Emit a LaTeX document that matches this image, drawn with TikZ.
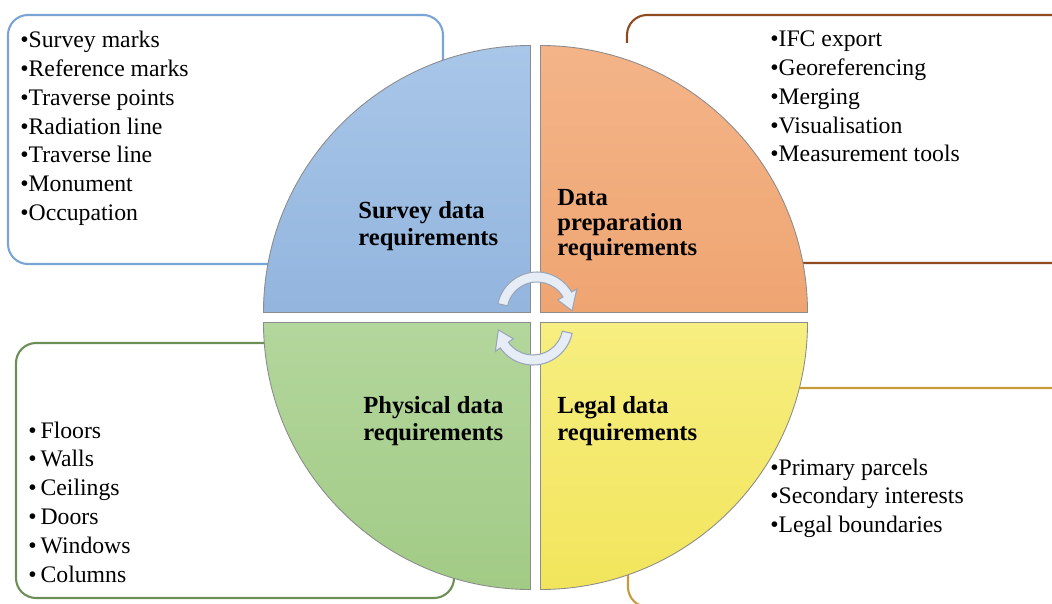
\documentclass[tikz,border=0pt]{standalone}
\usepackage{fontspec}
\setmainfont{Liberation Serif}
\usepackage{tikz}
\usetikzlibrary{calc}
\definecolor{surveyline}{HTML}{7BA4D6}
\definecolor{prepline}{HTML}{8E4B20}
\definecolor{physline}{HTML}{6C8F58}
\definecolor{legalline}{HTML}{C99A3A}
\definecolor{turnfill}{HTML}{E6EDF7}
\definecolor{turnline}{HTML}{98A6B8}
\tikzstyle{item} = [anchor=base west, inner sep=0pt, font=\rmfamily\fontsize{13.5}{16}\selectfont]
\tikzstyle{qlabel} = [anchor=base west, inner sep=0pt, font=\rmfamily\fontsize{14}{16}\selectfont\bfseries]
\tikzstyle{quarter} = [draw=black!45, line width=0.5pt]
\tikzstyle{listbox} = [rounded corners=0.4cm, line width=1.2pt]
\tikzstyle{turn} = [fill=turnfill, draw=turnline, line width=0.6pt]
\begin{document}
\begin{tikzpicture}[x=0.02cm,y=0.02cm]
    \useasboundingbox (0,0) rectangle (1052,603);
    \clip (0,0) rectangle (1052,603);
    % boxes behind the wheel
    \draw[listbox, draw=surveyline] (8,339) rectangle (443,588);
    \draw[listbox, draw=prepline] (627,560) -- (627,588) -- (1075,588) -- (1075,340) -- (700,340);
    \draw[listbox, draw=physline] (16,5) rectangle (454,260);
    \draw[listbox, draw=legalline] (628,-4) rectangle (1075,215);

    % the four quarters
    \coordinate (hub) at (535.5,285.5);
    \path[quarter, top color={rgb,255:red,168;green,198;blue,232}, bottom color={rgb,255:red,147;green,181;blue,222}]
        ($(hub)+(-5,5)$) -- ++(-267,0) arc[start angle=180, end angle=90, radius=267] -- cycle;
    \path[quarter, top color={rgb,255:red,244;green,180;blue,136}, bottom color={rgb,255:red,239;green,165;blue,114}]
        ($(hub)+(5,5)$) -- ++(0,267) arc[start angle=90, end angle=0, radius=267] -- cycle;
    \path[quarter, top color={rgb,255:red,179;green,214;blue,156}, bottom color={rgb,255:red,162;green,203;blue,134}]
        ($(hub)+(-5,-5)$) -- ++(-267,0) arc[start angle=180, end angle=270, radius=267] -- cycle;
    \path[quarter, top color={rgb,255:red,246;green,238;blue,128}, bottom color={rgb,255:red,242;green,229;blue,92}]
        ($(hub)+(5,-5)$) -- ++(267,0) arc[start angle=0, end angle=-90, radius=267] -- cycle;

    % turning arrows
    \coordinate (topturn) at (537,291);
    \coordinate (botturn) at (533,278);
    \path[turn] ([shift={(168:40)}]topturn) arc[start angle=168, end angle=30, radius=40]
        -- ([shift={(30:46)}]topturn) -- ([shift={(2:35)}]topturn) -- ([shift={(30:24)}]topturn)
        -- ([shift={(30:30)}]topturn) arc[start angle=30, end angle=168, radius=30] -- cycle;
    \path[turn] ([shift={(-12:40)}]botturn) arc[start angle=-12, end angle=-145, radius=40]
        -- ([shift={(-145:46)}]botturn) -- ([shift={(-172:35)}]botturn) -- ([shift={(-145:24)}]botturn)
        -- ([shift={(-145:30)}]botturn) arc[start angle=-145, end angle=-12, radius=30] -- cycle;

    % quarter labels
    \node[qlabel] (survey1) at (358,385) {Survey data};
    \node[qlabel] (survey2) at (358,358) {requirements};
    \node[qlabel] (prep1) at (557,398) {Data};
    \node[qlabel] (prep2) at (557,373) {preparation};
    \node[qlabel] (prep3) at (557,348) {requirements};
    \node[qlabel] (phys1) at (363,190) {Physical data};
    \node[qlabel] (phys2) at (363,163) {requirements};
    \node[qlabel] (legal1) at (557,190) {Legal data};
    \node[qlabel] (legal2) at (557,163) {requirements};

    % bullet lists
    \foreach \txt [count=\i] in {Survey marks, Reference marks, Traverse points, Radiation line, Traverse line, Monument, Occupation}
        \node[item] (sv\i) at (20,{555-28.67*(\i-1)}) {\textbullet\txt};
    \foreach \txt [count=\i] in {IFC export, Georeferencing, Merging, Visualisation, Measurement tools}
        \node[item] (dp\i) at (770,{556-28.75*(\i-1)}) {\textbullet\txt};
    \foreach \txt [count=\i] in {Floors, Walls, Ceilings, Doors, Windows, Columns}
        \node[item] (ph\i) at (28,{165-28.8*(\i-1)}) {\textbullet\,\txt};
    \foreach \txt [count=\i] in {Primary parcels, Secondary interests, Legal boundaries}
        \node[item] (lg\i) at (770,{128-28.5*(\i-1)}) {\textbullet\txt};
\end{tikzpicture}
\end{document}
